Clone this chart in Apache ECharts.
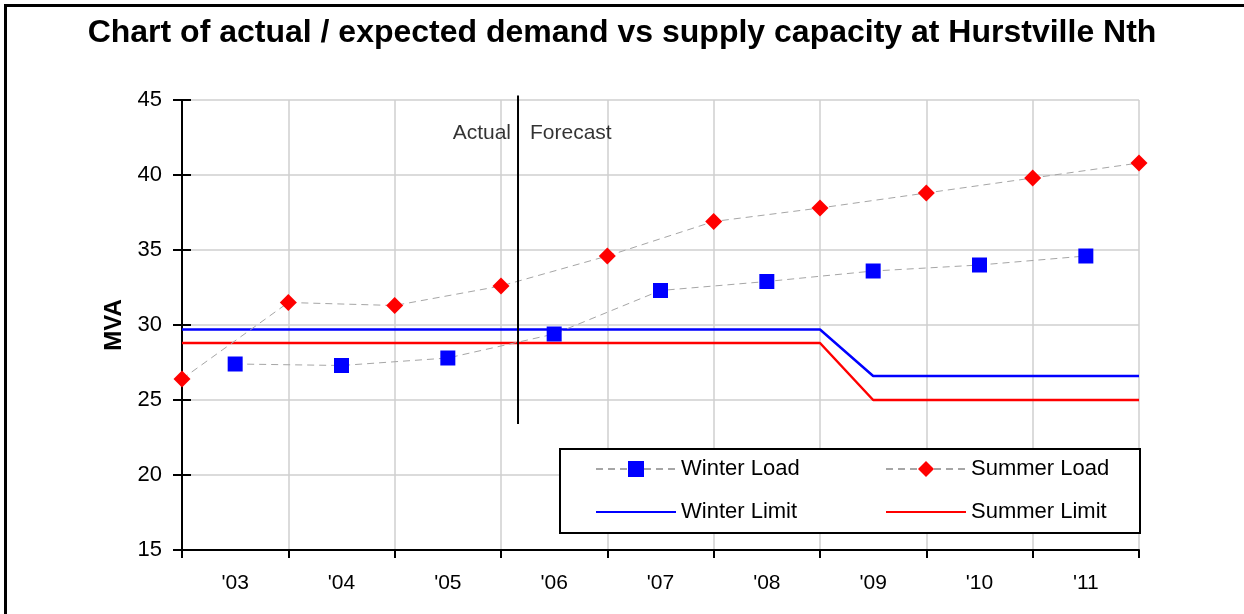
<!DOCTYPE html>
<html>
<head>
<meta charset="utf-8">
<script src="https://cdn.jsdelivr.net/npm/echarts@6/dist/echarts.min.js"></script>
<style>
  html, body { margin: 0; padding: 0; background: #fff; }
  #main { width: 1244px; height: 614px; }
</style>
</head>
<body>
<div id="main"></div>
<script>
// year labels, one per band between grid lines
const years = ["'03", "'04", "'05", "'06", "'07", "'08", "'09", "'10", "'11"];

// winter peaks sit mid-year, summer peaks on the year boundaries
const winterLoad = [27.4, 27.3, 27.8, 29.4, 32.3, 32.9, 33.6, 34.0, 34.6];
const summerLoad = [26.4, 31.5, 31.3, 32.6, 34.6, 36.9, 37.8, 38.8, 39.8, 40.8];

// supply capacity (x in years from start of '03)
const limitX = [0, 6, 6.5, 9];
const winterLimit = [29.7, 29.7, 26.6, 26.6];
const summerLimit = [28.8, 28.8, 25.0, 25.0];

// actual / forecast split
const dividerX = 3.16;
const dividerY = [23.4, 45.3];
const dividerLabelY = 42.8;

const yTicks = { min: 15, max: 45, interval: 5 };

const font = "'Liberation Sans', Arial, sans-serif";
const gridColor = "#cfcfcf";

const chart = echarts.init(document.getElementById("main"), null, { renderer: "canvas" });

// one legend per column so both columns line up
function legendColumn(left, names) {
  return {
    left: left,
    top: 458,
    orient: "vertical",
    itemWidth: 80,
    itemHeight: 20,
    itemGap: 21,
    itemTextGap: 8,
    padding: 0,
    z: 20,
    textStyle: { fontFamily: font, fontSize: 22, color: "#000" },
    data: names.map((n) => (n.indexOf("Limit") >= 0 ? { name: n, itemStyle: { opacity: 0 } } : { name: n })),
  };
}

const option = {
  backgroundColor: "#fff",
  animation: false,
  title: {
    text: "Chart of actual / expected demand vs supply capacity at Hurstville Nth",
    left: "center",
    top: 12,
    textStyle: { fontFamily: font, fontSize: 32, fontWeight: "bold", color: "#000" },
  },
  graphic: [
    {
      type: "rect",
      shape: { x: 5.5, y: 5.5, width: 1300, height: 700 },
      style: { fill: "none", stroke: "#000", lineWidth: 3 },
      silent: true,
    },
    {
      // legend frame
      type: "rect",
      z: 10,
      shape: { x: 560, y: 449, width: 580, height: 84 },
      style: { fill: "#fff", stroke: "#000", lineWidth: 2 },
      silent: true,
    },
  ],
  grid: { left: 182, right: 105, top: 100, bottom: 64 },
  legend: [
    legendColumn(595, ["Winter Load", "Winter Limit"]),
    legendColumn(885, ["Summer Load", "Summer Limit"]),
  ],
  xAxis: [
    {
      type: "value",
      min: 0,
      max: 9,
      interval: 1,
      axisLine: { lineStyle: { color: "#000", width: 2 } },
      axisTick: { length: 8, lineStyle: { color: "#000", width: 2 } },
      axisLabel: { show: false },
      splitLine: { show: true, lineStyle: { color: gridColor, width: 1.5 } },
    },
    {
      type: "category",
      data: years,
      position: "bottom",
      boundaryGap: true,
      axisLine: { show: false },
      axisTick: { show: false },
      splitLine: { show: false },
      axisLabel: { margin: 23, fontFamily: font, fontSize: 21, color: "#000" },
    },
  ],
  yAxis: [
    {
      type: "value",
      min: yTicks.min,
      max: yTicks.max,
      interval: yTicks.interval,
      name: "MVA",
      nameLocation: "middle",
      nameGap: 52,
      nameTextStyle: { fontFamily: font, fontSize: 24, fontWeight: "bold", color: "#000" },
      axisLine: { show: true, lineStyle: { color: "#000", width: 2 } },
      axisTick: { show: true, length: 9, lineStyle: { color: "#000", width: 2 } },
      axisLabel: { margin: 20, fontFamily: font, fontSize: 22, color: "#000" },
      splitLine: { show: true, lineStyle: { color: gridColor, width: 1.5 } },
    },
    {
      // inner half of the cross ticks
      type: "value",
      min: yTicks.min,
      max: yTicks.max,
      interval: yTicks.interval,
      position: "left",
      axisLine: { show: false },
      axisTick: { show: true, inside: true, length: 9, lineStyle: { color: "#000", width: 2 } },
      axisLabel: { show: false },
      splitLine: { show: false },
    },
  ],
  series: [
    {
      name: "Winter Limit",
      type: "line",
      data: limitX.map((x, i) => [x, winterLimit[i]]),
      symbol: "none",
      color: "#0000ff",
      lineStyle: { color: "#0000ff", width: 2.5 },
      z: 3,
    },
    {
      name: "Summer Limit",
      type: "line",
      data: limitX.map((x, i) => [x, summerLimit[i]]),
      symbol: "none",
      color: "#ff0000",
      lineStyle: { color: "#ff0000", width: 2.5 },
      z: 3,
    },
    {
      name: "Winter Load",
      type: "line",
      data: winterLoad.map((v, i) => [i + 0.5, v]),
      symbol: "rect",
      symbolSize: 15,
      color: "#0000ff",
      itemStyle: { color: "#0000ff" },
      lineStyle: { color: "#a6a6a6", width: 1, type: [7, 5] },
      z: 4,
    },
    {
      name: "Summer Load",
      type: "line",
      data: summerLoad.map((v, i) => [i, v]),
      symbol: "diamond",
      symbolSize: 17,
      color: "#ff0000",
      itemStyle: { color: "#ff0000" },
      lineStyle: { color: "#a6a6a6", width: 1, type: [7, 5] },
      clip: false,
      z: 4,
    },
    {
      name: "divider",
      type: "line",
      data: dividerY.map((y) => [dividerX, y]),
      symbol: "none",
      clip: false,
      lineStyle: { color: "#000", width: 2 },
      z: 5,
    },
    {
      name: "dividerLabels",
      type: "scatter",
      symbolSize: 0,
      clip: false,
      z: 5,
      label: { show: true, fontFamily: font, fontSize: 21, color: "#000" },
      data: [
        { value: [dividerX, dividerLabelY], label: { formatter: "Actual", position: "left", distance: 7 } },
        { value: [dividerX, dividerLabelY], label: { formatter: "Forecast", position: "right", distance: 12 } },
      ],
    },
  ],
};

chart.setOption(option);
</script>
</body>
</html>
